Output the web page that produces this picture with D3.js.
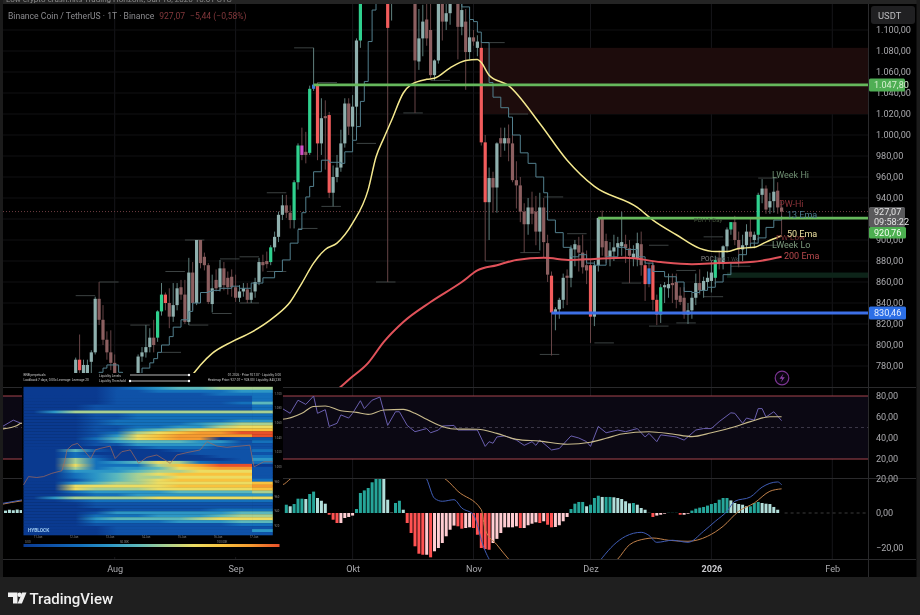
<!DOCTYPE html>
<html>
<head>
<meta charset="utf-8">
<script src="https://cdn.jsdelivr.net/npm/d3@7"></script>
<style>
  html, body { margin: 0; padding: 0; background: #000; overflow: hidden; }
  svg { display: block; filter: blur(0.35px); font-family: Roboto, sans-serif; }
</style>
</head>
<body>
<div id="chart"></div>
<script>
// Candles, one per day, first one is day -10 counted from 1 Aug 2025
const firstCandleDay = -10;
const opens = [
  772,786,769,772,784,793,844,824,805,793,
  783,768,756,750,760,754,772,789,793,798,
  807,807,832,848,840,827,838,855,848,822,
  869,840,900,884,876,839,862,855,873,864,
  865,855,845,851,853,843,851,860,879,880,
  879,893,903,924,933,926,919,955,990,984,
  983,1044,1048,992,1018,1019,945,960,969,992,
  1030,1008,1027,1090,1150,1170,1185,1225,1200,1280,
  1290,1130,1175,1250,1300,1270,1240,1180,1070,1092,
  1110,1100,1057,1071,1130,1108,1116,1128,1126,1103,
  1108,1079,1093,1083,1083,993,936,959,950,997,
  992,997,992,957,952,927,915,931,927,908,
  931,897,866,831,834,843,866,864,891,895,
  888,876,876,827,876,921,899,884,889,893,
  894,896,892,883,882,896,876,873,876,843,
  829,855,854,859,860,847,845,829,833,845,
  859,852,860,861,864,883,879,894,910,917,
  900,891,895,908,900,905,943,949,931,937,
  947,931
];
const highs = [
  788,810,786,786,795,846,860,838,813,814,
  791,770,762,765,768,768,791,798,819,816,
  824,833,859,850,854,859,859,862,862,883,
  879,900,900,888,878,867,872,881,879,870,
  872,867,857,859,859,854,864,883,886,889,
  895,908,927,943,943,933,957,992,1007,1003,
  1047,1083,1050,1035,1033,1022,971,981,1005,1035,
  1035,1038,1092,1160,1190,1200,1240,1260,1290,1330,
  1340,1200,1260,1370,1340,1310,1260,1230,1120,1124,
  1128,1130,1072,1140,1145,1125,1135,1140,1135,1125,
  1120,1110,1100,1095,1089,1000,969,965,993,1007,
  1007,1010,1000,975,960,935,940,946,942,945,
  940,905,870,836,845,868,872,895,900,903,
  905,890,882,880,922,928,906,898,905,903,
  927,905,900,895,907,908,880,878,880,848,
  858,860,868,868,868,855,855,840,850,868,
  872,865,870,880,885,890,895,912,917,923,
  908,905,915,920,908,945,958,952,945,960,
  955,937
];
const lows = [
  769,769,767,767,772,791,819,800,786,776,
  765,750,745,745,750,750,767,784,788,793,
  793,803,828,833,816,822,833,843,820,819,
  833,838,873,871,839,831,851,851,852,848,
  846,841,841,846,840,840,845,857,870,873,
  876,889,898,919,921,911,911,948,976,973,
  981,1042,976,981,967,940,932,955,965,988,
  1000,995,1005,1083,1135,1150,1170,1180,1195,1240,
  860,1109,1160,1230,1250,1220,1160,1021,1062,1075,
  1085,1054,1052,1068,1090,1100,1105,1125,1072,1095,
  1043,1072,1085,1075,990,880,900,926,926,979,
  985,975,955,930,917,888,905,915,895,890,
  883,860,790,814,825,835,838,855,875,870,
  868,858,802,818,870,885,878,875,880,885,
  885,878,859,875,875,866,842,855,833,819,
  821,840,845,840,835,838,825,820,825,838,
  848,845,855,850,858,872,872,888,905,895,
  874,880,888,895,892,900,935,925,925,926,
  925,905
];
const closes = [
  786,776,781,781,793,844,824,805,793,783,
  772,756,750,760,754,766,789,793,798,807,
  800,832,848,840,827,838,854,848,822,869,
  840,900,878,876,841,854,854,873,857,855,
  855,845,851,854,843,850,860,879,876,877,
  893,903,924,933,926,919,955,990,981,981,
  1044,1048,992,1016,1016,945,960,969,992,1030,
  1008,1027,1090,1150,1170,1185,1225,1200,1280,1290,
  1102,1175,1250,1300,1270,1240,1180,1071,1092,1108,
  1092,1057,1071,1130,1108,1116,1128,1126,1103,1119,
  1079,1093,1089,1089,993,936,959,950,992,992,
  997,992,957,952,927,915,931,925,908,931,
  898,867,831,834,843,864,864,892,896,888,
  874,871,827,876,921,893,884,890,893,897,
  898,892,885,887,897,876,858,858,843,829,
  855,857,858,857,843,841,829,833,845,859,
  852,861,864,869,881,878,894,910,917,900,
  891,895,908,903,905,943,949,929,937,946,
  931,927
];
// Days with strong colours
const brightUpDays = [11, 12, 40, 46, 47, 50, 63, 140, 154, 158, 165];
const brightDownDays = [-9, 13, 52, 55, 70, 94, 95, 112, 122, 136, 138, 139];
const blueDays = [51, 137];
const magentaDays = [48];

// Stepped 13 Ema
const stepDays = [-6,-4,-3,-2,0,1,2,5,6,7,9,10,11,12,14,15,17,19,20,22,24,25,27,30,32,35,38,41,43,45,47,48,49,50,51,53,55,58,59,61,62,63,64,65,66,67,70,75,80,85,88,89,91,92,93,94,96,97,99,101,102,104,106,108,110,111,113,115,117,119,121,123,126,129,131,134,136,138,141,144,146,148,150,152,154,156,158,160,162,163,165,167,169,171];
const stepPrices = [769,774,778,781,781,774,755,762,773,778,783,787,793,800,808,817,824,832,840,850,851,852,854,856,854,859,864,870,881,897,910,926,941,951,965,976,974,973,984,995,1008,1032,1051,1089,1119,1148,1200,1240,1200,1160,1130,1122,1110,1108,1098,1088,1050,1036,1026,1017,1000,983,973,960,945,919,907,893,884,886,878,876,884,893,891,884,878,870,865,860,851,850,852,855,860,867,878,886,893,897,902,912,919,923];

// 50 Ema and 200 Ema
const ema50Days = [19,20,22,25,30,35,41,45,48,51,54,57,61,65,67,69,71,74,76,80,82,86,90,93,94,96,101,109,116,123,134,138,144,150,154,157,160,164,167,171];
const ema50 = [768,772,781,792,803,812,827,841,859,878,891,897,916,948,979,997,1014,1040,1048,1053,1054,1064,1071,1072,1069,1057,1047,1011,976,951,931,919,905,892,889,889,892,893,898,904];
const ema200Days = [57,60,65,69,74,81,89,93,98,103,110,117,123,131,140,148,155,163,171];
const ema200 = [757,767,783,803,822,841,860,871,876,881,883,881,882,883,879,877,878,879,884];

// Small pivot lines, all five days long
const pivotDays = [-10,-4,4,13,12,18,19,25,27,32,32,39,39,47,46,53,62,67,74,52,81,95,95,101,104,109,110,116,123,130,137,137,144,144,151,151,158,165,165];
const pivotPrices = [847,860,819,870,793,900,819,830,882,884,840,945,870,911,1083,932,992,860,1021,1050,1052,1088,880,1020,888,791,941,906,802,859,818,895,821,871,846,903,875,959,895];

// Price levels
const priceTicks = [1100,1080,1060,1040,1020,1000,980,960,940,920,900,880,860,840,820,800,780];
const shownPriceTicks = priceTicks.filter(d => d !== 920);
const upperZone = [1083, 1020];
const lowerZone = [869, 864];
const greenHigh = 1047.80;
const greenLow = 920.76;
const blueLevel = 830.46;
const lastPrice = 927.07;

// RSI
const rsiDays = [-29,-26,-24,43,45,47,49,51,52,54,55,57,58,60,61,63,64,66,68,70,72,73,75,77,80,81,83,84,87,88,93,95,96,97,98,100,103,105,107,108,109,112,114,117,119,121,122,124,126,129,131,134,136,137,139,140,144,146,149,151,153,155,158,159,161,162,164,165,166,167,169,171];
const rsiValues = [50.5,57,54,68,63.5,76,72,80,63.5,67,51,54,62,59,63.5,75.5,68,76,79,52,65,65,52,46,49,45,47.6,51.4,52,47.6,47.6,32,36.5,35,41,42,38,33,36.5,33,38,28.6,30,42,40,36.5,32,51,45,47.6,46,49,41,44.4,36.5,43,41,38,47.6,49,49,55.6,64,63.5,54,59,57,68,68,60,65,56.5];
const rsiMaDays = [-29,-25,-24,43,48,51,54,58,62,65,69,74,77,80,83,87,93,98,103,109,116,122,126,130,137,143,148,153,159,163,168,171];
const rsiMa = [48.5,52,54,57.8,63.5,70,70.5,66,64.4,62.5,66.7,67.3,63.5,57.8,52.4,48.6,48.3,44.4,38.7,37,34,36,39.7,43.8,46,43.8,41.3,45,50.8,55.6,60.3,60.3];
const rsiTicks = [80, 60, 40, 20];

// MACD
const macdLeadDays = [-28,-27,-26,-25,-24];
const macdLead = [1.4,1.9,1.6,2.0,1.7];
const macdFirstDay = 44;
const macdHist = [
  4.8,3.9,5.2,8.3,8.3,8.1,11,12.4,8.7,7.1,5.4,
  -1,-3.9,-5.8,-5.8,-2.9,-2.3,-1.5,
  2.3,11.6,13.1,14.5,17.8,21,22,21,7.7,0.2,5.8,7.1,1.9,
  -5.8,-11.6,-19.3,-23.6,-24.2,-24.2,-25.7,-22.2,-20.3,-17.4,-13.5,-9.7,-7.3,-7.7,-9.1,-8.7,-8.3,-8.7,-12.6,-20.3,-20.9,-21.3,-17.4,-15,-11.6,-8.3,-8.3,-8.3,-7.7,-8.7,-8.7,-7.1,-6.2,-5.4,-5.8,-4.8,-6.8,-8.3,-8.1,-7.1,-4.8,-2.3,
  2.3,5.4,6.4,6.4,3.9,4.8,8.7,10,9.3,9.3,9.3,9.1,8.7,8.1,6.8,5.6,5.8,4.8,2.9,1.9,0.1,
  -2.3,-1.5,-1,-0.4,0.1,0.1,0.1,-1,-1,-0.4,
  1.4,2.5,3.1,3.5,4.3,5.2,5.8,7.7,8.7,8.7,7.3,5.8,5.2,4.8,3.9,3.9,5.8,6.4,5.8,5.4,5.2,3.5,1.9
];
const macdDays = [-29,-24,60,75,80,82,84,87,89,92,93,94,96,105,115,122,125,128,131,135,137,139,143,147,151,154,157,159,163,166,170,171];
const macdLine = [5.5,7.5,35,32,19.7,8.5,6.8,7.7,2.9,-1,-6.8,-15.5,-26.7,-45,-50,-35,-26,-18.4,-13.5,-11.2,-13,-17,-15.8,-17,-10.6,-4.8,1,6.8,9.3,15,18,16.4];
const signalDays = [-29,-24,43,45,60,85,88,94,95,98,101,110,120,129,132,136,138,142,147,152,156,160,164,168,171];
const signalLine = [5,7,16.4,19.7,40,19.3,12.6,1.9,-9.7,-18.4,-26.7,-45,-38,-26.7,-18.4,-15,-14.5,-15.8,-16.4,-13.5,-7.7,1,5.8,12.6,14];
const macdTicks = [20, 0, -20];

// Time axis
const monthTicks = [
  new Date(Date.UTC(2025, 7, 1)), new Date(Date.UTC(2025, 8, 1)), new Date(Date.UTC(2025, 9, 1)),
  new Date(Date.UTC(2025, 10, 1)), new Date(Date.UTC(2025, 11, 1)), new Date(Date.UTC(2026, 0, 1)),
  new Date(Date.UTC(2026, 1, 1))
];
const monthLabels = ['Aug', 'Sep', 'Okt', 'Nov', 'Dez', '2026', 'Feb'];

// Inlay heatmap, one digit per column, 0 = no liquidity, 9 = most
const heatRows = [
  '000012344555','000011222233','000011111222','000011111112','000011111112',
  '000011111124','000111111112','000111111112','035555555555','000112222222',
  '000112222222','000122222233','000122223455','000112233566','000113456777',
  '000125678899','000136788889','000246788011','000134443312','000113333211',
  '000001222111','004100011112','002000001111','002100000112','005200000013',
  '005234652112','006222578990','005233467881','003334556661','002345677771',
  '002345566661','001345677772','003455666667','006666677778','006555666667',
  '002333344445','001223333333','035555666666','001222222222','000111111111',
  '000111111111','000011111222','000133333344','000222333455','000344445666',
  '000222233344','000111111122','000011111111','000011111113','000011111111'
];
const heatColors = ['#0a3a90','#0f52a8','#1470bb','#2c96c6','#5cb8bc','#a8d092','#ecdc62','#f8c23e','#f59a30','#e8502a'];
const inlayCols = [0,.24,.64,.96,1.36,1.85,2,2.09,2.33,2.6,2.89,3.24,3.45,3.69,4.17,4.41,4.73,5.14,5.54,5.94,6.42,7.06,7.38,7.87,8.5,8.83,9.31,9.79,10.9,11.03,11.1,11.56,12];
const inlayRows = [33.1,30.3,30.6,30.3,29.2,28.3,24.7,21.3,19.7,19.1,21.3,24.2,21.3,20.8,20,24.2,21.9,21.3,25.8,23.8,23,25.8,23,22.2,21.3,18.5,20,20.4,19.7,24.7,27,25.3,25.3];
const inlayPriceLabels = ['1.100','1.080','1.060','1.040','1.020','1.000','980','960','940','920'];
const inlayDateLabels = ['11 Jan','12 Jan','13 Jan','14 Jan','15 Jan','16 Jan','17 Jan'];

const width = 920;
const height = 615;
const paneRight = 868.5;
const axisX = 876;

const aug1 = new Date(Date.UTC(2025, 7, 1));
const dayDate = d => d3.utcDay.offset(aug1, d);

// Scales
const xTime = d3.scaleUtc()
  .domain([aug1, new Date(Date.UTC(2026, 1, 1))])
  .range([114.7, 832.3]);
const yPrice = d3.scaleLinear().domain([1100, 780]).range([30, 366]);
const yRsi = d3.scaleLinear().domain([80, 20]).range([396, 459]);
const yMacd = d3.scaleLinear().domain([20, -20]).range([478.5, 547.5]);
const xDay = d => xTime(dayDate(d));

const numFormat = d3.formatLocale({ decimal: ',', thousands: '.', grouping: [3], currency: ['', ''] }).format(',.2f');

const svg = d3.select('#chart')
  .append('svg')
  .attr('width', width)
  .attr('height', height);

svg.append('rect').attr('width', width).attr('height', height).attr('fill', '#000');

const defs = svg.append('defs');
function addClip(id, y0, y1) {
  defs.append('clipPath').attr('id', id)
    .append('rect').attr('x', 3).attr('y', y0).attr('width', paneRight - 3).attr('height', y1 - y0);
}
addClip('clip-main', 4, 387);
addClip('clip-rsi', 388, 478);
addClip('clip-macd', 479, 559);

// Grid
const grid = svg.append('g').attr('stroke', '#16161a').attr('stroke-width', 1);
grid.selectAll('.gv').data(monthTicks).enter().append('line')
  .attr('x1', d => xTime(d)).attr('x2', d => xTime(d)).attr('y1', 4).attr('y2', 559);
grid.selectAll('.gh').data(priceTicks).enter().append('line')
  .attr('x1', 3).attr('x2', paneRight).attr('y1', d => yPrice(d)).attr('y2', d => yPrice(d))
  .attr('stroke', '#101012');

// Main pane
const main = svg.append('g').attr('clip-path', 'url(#clip-main)');

main.append('rect')
  .attr('x', xDay(94) + 2).attr('width', paneRight - xDay(94) - 2)
  .attr('y', yPrice(upperZone[0])).attr('height', yPrice(upperZone[1]) - yPrice(upperZone[0]))
  .attr('fill', '#1d0c0c');
main.append('rect')
  .attr('x', xDay(157)).attr('width', paneRight - xDay(157))
  .attr('y', yPrice(lowerZone[0])).attr('height', yPrice(lowerZone[1]) - yPrice(lowerZone[0]))
  .attr('fill', '#0d2419');

// Last price dotted line
main.append('line')
  .attr('x1', 3).attr('x2', paneRight).attr('y1', yPrice(lastPrice)).attr('y2', yPrice(lastPrice))
  .attr('stroke', '#6e3d42').attr('stroke-width', 1).attr('stroke-dasharray', '1 2');

// Pivot lines
main.selectAll('.pivot').data(pivotDays).enter().append('line')
  .attr('x1', d => xDay(d)).attr('x2', d => xDay(d + 5))
  .attr('y1', (d, i) => yPrice(pivotPrices[i])).attr('y2', (d, i) => yPrice(pivotPrices[i]))
  .attr('stroke', '#3c4242').attr('stroke-width', 1);

// Candles
function bodyColor(day, up) {
  if (blueDays.includes(day)) return '#3d7fd6';
  if (magentaDays.includes(day)) return '#d24fc8';
  if (brightUpDays.includes(day)) return '#2fd08e';
  if (brightDownDays.includes(day)) return '#f25c5c';
  return up ? '#8fb0ae' : '#8c5f60';
}
const candles = d3.range(opens.length);
main.selectAll('.wick').data(candles).enter().append('line')
  .attr('x1', i => xDay(firstCandleDay + i)).attr('x2', i => xDay(firstCandleDay + i))
  .attr('y1', i => yPrice(highs[i])).attr('y2', i => yPrice(lows[i]))
  .attr('stroke', i => closes[i] >= opens[i] ? '#5f7f7d' : '#664446')
  .attr('stroke-width', 1);
main.selectAll('.body').data(candles).enter().append('rect')
  .attr('x', i => xDay(firstCandleDay + i) - 1.6)
  .attr('width', 3.2)
  .attr('y', i => yPrice(Math.max(opens[i], closes[i])))
  .attr('height', i => Math.max(1, Math.abs(yPrice(opens[i]) - yPrice(closes[i]))))
  .attr('fill', i => bodyColor(firstCandleDay + i, closes[i] >= opens[i]));

// Indicator lines on price
const priceLine = curve => d3.line().x(d => xDay(d[0])).y(d => yPrice(d[1])).curve(curve);
main.append('path')
  .attr('d', priceLine(d3.curveStepAfter)(d3.zip(stepDays, stepPrices)))
  .attr('fill', 'none').attr('stroke', '#527f8d').attr('stroke-width', 1);
main.append('path')
  .attr('d', priceLine(d3.curveMonotoneX)(d3.zip(ema200Days, ema200)))
  .attr('fill', 'none').attr('stroke', '#e0525a').attr('stroke-width', 2);
main.append('path')
  .attr('d', priceLine(d3.curveMonotoneX)(d3.zip(ema50Days, ema50)))
  .attr('fill', 'none').attr('stroke', '#f4e88e').attr('stroke-width', 1.5);

// Level lines
function levelLine(day, price, color) {
  main.append('line')
    .attr('x1', xDay(day)).attr('x2', paneRight).attr('y1', yPrice(price)).attr('y2', yPrice(price))
    .attr('stroke', color).attr('stroke-width', 2.8);
}
levelLine(51, greenHigh, '#66b85c');
levelLine(124, greenLow, '#66b85c');
levelLine(112, blueLevel, '#3d6fe6');

// Chart annotations
const notes = [
  ['LWeek Hi', 772, 177.5, '#6f8f72', 9], ['PW-Hi', 779, 206.5, '#8b3339', 9], ['13 Ema', 787, 217.5, '#4b7b8e', 9],
  ['PW-Low', 776, 240, '#7c2f33', 8], ['50 Ema', 787, 236.5, '#ece0a0', 9], ['LWeek Lo', 772, 247.5, '#7c9a7e', 9],
  ['200 Ema', 784, 258.5, '#b8494d', 9], ['POC', 701, 261, '#8a8a8a', 6.5], ['POC 1 Wk', 716, 261, '#3f4a4a', 5], ['PDH 1 Day', 694, 221.5, '#46553f', 6]
];
svg.selectAll('.note').data(notes).enter().append('text')
  .text(d => d[0]).attr('x', d => d[1]).attr('y', d => d[2])
  .attr('fill', d => d[3]).attr('font-size', d => d[4]);

// Lightning badge
svg.append('circle').attr('cx', 782).attr('cy', 378).attr('r', 6.8)
  .attr('fill', '#0a0410').attr('stroke', '#7c3592').attr('stroke-width', 1.2);
svg.append('path').attr('d', 'M783.5 373.5 l-4 5.3 h2.7 l-1.4 3.7 l4 -5.2 h-2.7 z').attr('fill', '#8b3fa3');

// RSI pane
svg.append('rect').attr('x', 3).attr('width', paneRight - 3)
  .attr('y', yRsi(80)).attr('height', yRsi(20) - yRsi(80)).attr('fill', '#0b0813');
const rsiPane = svg.append('g').attr('clip-path', 'url(#clip-rsi)');
rsiPane.selectAll('.rsiBound').data([80, 20]).enter().append('line')
  .attr('x1', 3).attr('x2', paneRight).attr('y1', d => yRsi(d)).attr('y2', d => yRsi(d))
  .attr('stroke', '#a5444f').attr('stroke-width', 1);
rsiPane.append('line')
  .attr('x1', 3).attr('x2', paneRight).attr('y1', yRsi(50)).attr('y2', yRsi(50))
  .attr('stroke', '#3a3646').attr('stroke-dasharray', '3 3');
const rsiLine = d3.line().x(d => xDay(d[0])).y(d => yRsi(d[1]));
rsiPane.append('path').attr('d', rsiLine(d3.zip(rsiDays, rsiValues)))
  .attr('fill', 'none').attr('stroke', '#6a5fae').attr('stroke-width', 1);
rsiPane.append('path').attr('d', rsiLine.curve(d3.curveMonotoneX)(d3.zip(rsiMaDays, rsiMa)))
  .attr('fill', 'none').attr('stroke', '#c9bb8c').attr('stroke-width', 1.1);

// MACD pane
const macdPane = svg.append('g').attr('clip-path', 'url(#clip-macd)');
macdPane.append('line')
  .attr('x1', xDay(171) + 3).attr('x2', paneRight).attr('y1', yMacd(0)).attr('y2', yMacd(0))
  .attr('stroke', '#3a3a3a').attr('stroke-dasharray', '3 3');
function histColor(v, prev) {
  if (v >= 0) return v >= prev ? '#26a69a' : '#b2dfdb';
  return v < prev ? '#ff5252' : '#ffcdd2';
}
macdPane.selectAll('.hist').data(macdHist).enter().append('rect')
  .attr('x', (d, i) => xDay(macdFirstDay + i) - 1.5)
  .attr('width', 3)
  .attr('y', d => yMacd(Math.max(d, 0)))
  .attr('height', d => Math.abs(yMacd(d) - yMacd(0)))
  .attr('fill', (d, i) => histColor(d, i ? macdHist[i - 1] : 0));
macdPane.selectAll('.histLead').data(macdLead).enter().append('rect')
  .attr('x', (d, i) => xDay(macdLeadDays[i]) - 1.5)
  .attr('width', 3)
  .attr('y', d => yMacd(d))
  .attr('height', d => yMacd(0) - yMacd(d))
  .attr('fill', '#b2dfdb');
const macdPath = d3.line().x(d => xDay(d[0])).y(d => yMacd(d[1])).curve(d3.curveMonotoneX);
macdPane.append('path').attr('d', macdPath(d3.zip(signalDays, signalLine)))
  .attr('fill', 'none').attr('stroke', '#c0804a').attr('stroke-width', 1);
macdPane.append('path').attr('d', macdPath(d3.zip(macdDays, macdLine)))
  .attr('fill', 'none').attr('stroke', '#3f5cb4').attr('stroke-width', 1);

// Pane separators
const sep = svg.append('g').attr('stroke', '#2a2a2c').attr('stroke-width', 1);
sep.append('line').attr('x1', 3).attr('x2', 916).attr('y1', 387.5).attr('y2', 387.5);
sep.append('line').attr('x1', 3).attr('x2', 916).attr('y1', 478.5).attr('y2', 478.5);
sep.append('line').attr('x1', 3).attr('x2', 916).attr('y1', 559.5).attr('y2', 559.5);
sep.append('line').attr('x1', paneRight).attr('x2', paneRight).attr('y1', 4).attr('y2', 577);

// Axes
function styleAxis(g, size) {
  g.select('.domain').remove();
  g.selectAll('.tick line').remove();
  g.selectAll('text').attr('fill', '#a9a9ad').attr('font-size', size).attr('font-family', 'Roboto, sans-serif');
}
svg.append('g').attr('transform', `translate(${axisX},0)`)
  .call(d3.axisRight(yPrice).tickValues(shownPriceTicks).tickFormat(numFormat).tickSize(0).tickPadding(0))
  .call(g => styleAxis(g, 9.1));
svg.append('g').attr('transform', `translate(${axisX},0)`)
  .call(d3.axisRight(yRsi).tickValues(rsiTicks).tickFormat(numFormat).tickSize(0).tickPadding(0))
  .call(g => styleAxis(g, 9.1));
svg.append('g').attr('transform', `translate(${axisX},0)`)
  .call(d3.axisRight(yMacd).tickValues(macdTicks).tickFormat(d => numFormat(d).replace('-', '−')).tickSize(0).tickPadding(0))
  .call(g => styleAxis(g, 9.1));
svg.append('g').attr('transform', 'translate(0,559)')
  .call(d3.axisBottom(xTime).tickValues(monthTicks).tickFormat((d, i) => monthLabels[i]).tickSize(0).tickPadding(7))
  .call(g => styleAxis(g, 9.1))
  .call(g => g.selectAll('text').filter((d, i) => monthLabels[i] === '2026').attr('font-weight', 700).attr('fill', '#c8c8cc'));

// Price tags
function priceTag(y0, y1, w, color, lines, textColor) {
  svg.append('rect').attr('x', 869).attr('y', y0).attr('width', w).attr('height', y1 - y0).attr('rx', 1.5).attr('fill', color);
  const step = (y1 - y0) / lines.length;
  lines.forEach((t, i) => {
    svg.append('text').text(t).attr('x', axisX - 2).attr('y', y0 + step * i + step / 2 + 3.2)
      .attr('fill', textColor).attr('font-size', 9.1);
  });
}
priceTag(78.5, 91.5, 36, '#4fae54', [numFormat(greenHigh)], '#d6efcf');
priceTag(207, 227, 36, '#5a5a5c', [numFormat(lastPrice), '09:58:22'], '#e4e4e4');
priceTag(227, 238.5, 37, '#4cb050', [numFormat(greenLow)], '#f2fff0');
priceTag(306.5, 319.5, 37, '#2c6fe6', [numFormat(blueLevel)], '#e4eeff');

// USDT button
svg.append('rect').attr('x', 871).attr('y', 6).attr('width', 44).attr('height', 18).attr('rx', 3).attr('fill', '#202022');
svg.append('text').text('USDT').attr('x', 878).attr('y', 18.5).attr('fill', '#bdbdc0').attr('font-size', 9.4);

// Title row
const title = svg.append('text').attr('x', 8).attr('y', 19).attr('font-size', 8.6);
title.append('tspan').text('Binance Coin / TetherUS · 1T · Binance').attr('fill', '#8b8b8f');
title.append('tspan').text('927,07').attr('dx', 5).attr('fill', '#83383c');
title.append('tspan').text('−5,44 (−0,58%)').attr('dx', 5).attr('fill', '#83383c');

// Inlay heatmap
const inlay = svg.append('g');
inlay.append('rect').attr('x', 22).attr('y', 373).attr('width', 261).attr('height', 184).attr('fill', '#000');
inlay.selectAll('.head').data([
  ['BNB perpetuals', 23.5, 376, 'start'], ['Lookback 7 days, 0.00x Leverage: Leverage 20', 23.5, 380.5, 'start'],
  ['Liquidity Levels', 99, 376.5, 'start'], ['Liquidity Threshold', 99, 382, 'start'],
  ['01.2026 · Price 927.07 · Liquidity 0.00', 281, 376, 'end'], ['Heatmap Price: 927.07 – 928.00 | Liquidity: 845,230', 281, 380.5, 'end']
]).enter().append('text')
  .text(d => d[0]).attr('x', d => d[1]).attr('y', d => d[2]).attr('text-anchor', d => d[3])
  .attr('fill', '#c8c8c8').attr('font-size', 3.2);
[375, 381].forEach(y => {
  inlay.append('line').attr('x1', 130).attr('x2', 189).attr('y1', y).attr('y2', y).attr('stroke', '#e8e8e8').attr('stroke-width', 0.8);
  inlay.append('circle').attr('cx', 189).attr('cy', y).attr('r', 1.2).attr('fill', '#fff');
});
inlay.append('circle').attr('cx', 130).attr('cy', 381).attr('r', 1.2).attr('fill', '#fff');

const heatX = d3.scaleLinear().domain([0, 12]).range([23.5, 272.8]);
const heatY = d3.scaleBand().domain(d3.range(heatRows.length)).range([386.8, 535]);
const heatRowY = d3.scaleLinear().domain([0, heatRows.length]).range([386.8, 535]);
const heatColor = d3.scaleLinear().domain(d3.range(heatColors.length)).range(heatColors);

heatRows.forEach((row, r) => {
  const grad = defs.append('linearGradient').attr('id', `heat${r}`);
  d3.range(11).forEach(k => {
    grad.append('stop').attr('offset', (k + 0.5) / 11).attr('stop-color', heatColor(+row[k]));
  });
  inlay.append('rect')
    .attr('x', heatX(0)).attr('width', heatX(11) - heatX(0))
    .attr('y', heatY(r)).attr('height', heatY.bandwidth() + 0.3)
    .attr('fill', `url(#heat${r})`);
  inlay.append('rect')
    .attr('x', heatX(11)).attr('width', heatX(12) - heatX(11))
    .attr('y', heatY(r)).attr('height', heatY.bandwidth() + 0.3)
    .attr('fill', heatColor(+row[11]));
});
inlay.append('path')
  .attr('d', d3.line().x(d => heatX(d[0])).y(d => heatRowY(d[1]))(d3.zip(inlayCols, inlayRows)))
  .attr('fill', 'none').attr('stroke', '#a86a58').attr('stroke-width', 0.7);

inlay.append('text').text('HYBLOCK').attr('x', 28).attr('y', 532)
  .attr('fill', '#9cc8ee').attr('font-size', 4.8).attr('font-weight', 700);

const inlayTickY = d3.scalePoint().domain(inlayPriceLabels).range([393.5, 526]);
inlay.selectAll('.ip').data(inlayPriceLabels).enter().append('text')
  .text(d => d).attr('x', 274.5).attr('y', d => inlayTickY(d) + 1)
  .attr('fill', '#8a8a8a').attr('font-size', 2.8);
const inlayTickX = d3.scalePoint().domain(inlayDateLabels).range([38, 254]);
inlay.selectAll('.id').data(inlayDateLabels).enter().append('text')
  .text(d => d).attr('x', d => inlayTickX(d)).attr('y', 537.5).attr('text-anchor', 'middle')
  .attr('fill', '#8a8a8a').attr('font-size', 2.8);

// Colour bar
const barGrad = defs.append('linearGradient').attr('id', 'heatbar');
heatColors.forEach((c, i) => {
  barGrad.append('stop').attr('offset', i / (heatColors.length - 1)).attr('stop-color', c);
});
inlay.append('rect').attr('x', 23.5).attr('y', 544).attr('width', 256).attr('height', 3).attr('fill', 'url(#heatbar)');
inlay.selectAll('.cb').data([['0.00', 25], ['50.00K', 120], ['100.00K', 217]]).enter().append('text')
  .text(d => d[0]).attr('x', d => d[1]).attr('y', 543).attr('fill', '#8a8a8a').attr('font-size', 2.8);

// Frame around the screenshot
svg.append('rect').attr('x', 0).attr('y', 0).attr('width', width).attr('height', 4).attr('fill', '#242424');
svg.append('text').text('Low-crypto-crash.hits Trading Horizont, Jan 18, 2026 10:01 UTC')
  .attr('x', 6).attr('y', 2).attr('fill', '#8c8c8c').attr('font-size', 8);
svg.append('rect').attr('x', 0).attr('y', 0).attr('width', 3).attr('height', 577).attr('fill', '#1b1b1b');
svg.append('rect').attr('x', 916.5).attr('y', 0).attr('width', 3.5).attr('height', 577).attr('fill', '#1b1b1b');
svg.append('rect').attr('x', 0).attr('y', 577).attr('width', width).attr('height', 38).attr('fill', '#1f1f1f');

// TradingView mark
svg.append('path').attr('d', 'M8 592.5 h9.5 v11 h-4.5 v-6.5 h-5 z M26.5 592.5 l-4.6 11 h-4.3 l4.6 -11 z').attr('fill', '#f0f0f0');
svg.append('circle').attr('cx', 19.6).attr('cy', 594.8).attr('r', 2.2).attr('fill', '#f0f0f0');
svg.append('text').text('TradingView').attr('x', 29.5).attr('y', 603.5)
  .attr('fill', '#f0f0f0').attr('font-size', 15).attr('font-weight', 500);
</script>
</body>
</html>
